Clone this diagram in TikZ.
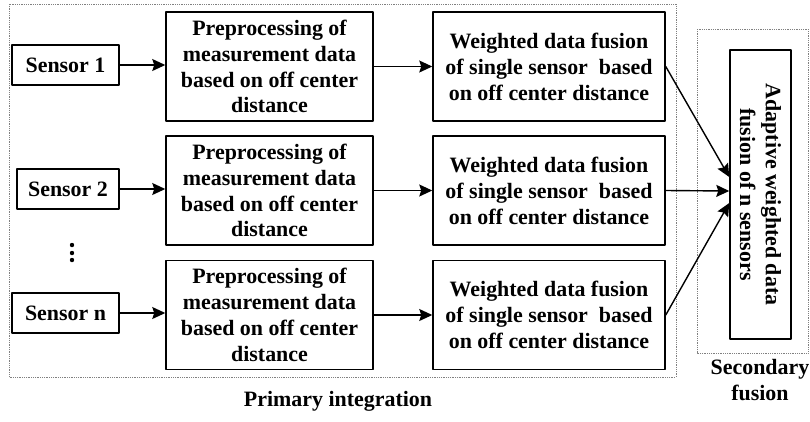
\documentclass[tikz,border=0pt]{standalone}
\usepackage{fontspec}
\setmainfont{Liberation Serif}
\usetikzlibrary{arrows.meta,positioning}

\tikzset{
  sensorbox/.style={draw, line width=1.5bp, minimum width=107bp, minimum height=40bp, inner sep=0pt},
  procbox/.style={draw, line width=1.5bp, minimum width=207bp, minimum height=109bp, align=center, inner sep=0pt},
  fusebox/.style={draw, line width=1.5bp, minimum width=232bp, minimum height=109bp, align=center, inner sep=0pt},
  groupbox/.style={draw=gray, densely dotted, line width=0.8bp},
  flow/.style={-{Stealth[length=13bp,width=12bp,inset=2bp]}, line width=1.4bp}
}

\begin{document}
\begin{tikzpicture}[x=1bp,y=-1bp,line join=round,font=\bfseries\fontsize{22}{26}\selectfont]
  \useasboundingbox (0,0) rectangle (810,421);

  % groups
  \draw[groupbox] (9,4) rectangle (676,377);
  \draw[groupbox] (697,29) rectangle (808,353);

  % sensors
  \node[sensorbox] (s1) at (65.5,65) {Sensor 1};
  \node[sensorbox, minimum width=102bp] (s2) at (68,189) {Sensor 2};
  \node[sensorbox] (sn) at (65.5,313) {Sensor n};
  \foreach \y in {245,253,260}
    \fill (72,\y) circle (2.2bp);

  % preprocessing
  \node[procbox] (p1) at (269.5,66.5) {Preprocessing of\\measurement data\\based on off center\\distance};
  \node[procbox] (p2) at (269.5,190.5) {Preprocessing of\\measurement data\\based on off center\\distance};
  \node[procbox] (pn) at (269.5,315) {Preprocessing of\\measurement data\\based on off center\\distance};

  % single sensor fusion
  \node[fusebox] (w1) at (549,66.5) {Weighted data fusion\\of single sensor\ \ based\\on off center distance};
  \node[fusebox] (w2) at (549,190.5) {Weighted data fusion\\of single sensor\ \ based\\on off center distance};
  \node[fusebox] (wn) at (549,315) {Weighted data fusion\\of single sensor\ \ based\\on off center distance};

  % secondary fusion
  \node[draw, line width=1.5bp, minimum width=289bp, minimum height=61bp, align=center, inner sep=0pt, rotate=-90] (ad) at (760.5,194.5) {Adaptive weighted data\\fusion of n sensors};

  \node (prim) at (338,401) {Primary integration};
  \node[align=center] (sec) at (760,380) {Secondary\\fusion};

  % connectors
  \draw[flow] (s1.east) -- (s1.east -| p1.west);
  \draw[flow] (s2.east) -- (s2.east -| p2.west);
  \draw[flow] (sn.east) -- (sn.east -| pn.west);
  \draw[flow] (p1.east) -- (w1.west);
  \draw[flow] (p2.east) -- (w2.west);
  \draw[flow] (pn.east) -- (wn.west);
  \draw[flow] (w1.east) -- (ad.south |- 0,177);
  \draw[flow] (w2.east) -- (ad.south |- 0,191);
  \draw[flow] (wn.east) -- (ad.south |- 0,203);
\end{tikzpicture}
\end{document}
